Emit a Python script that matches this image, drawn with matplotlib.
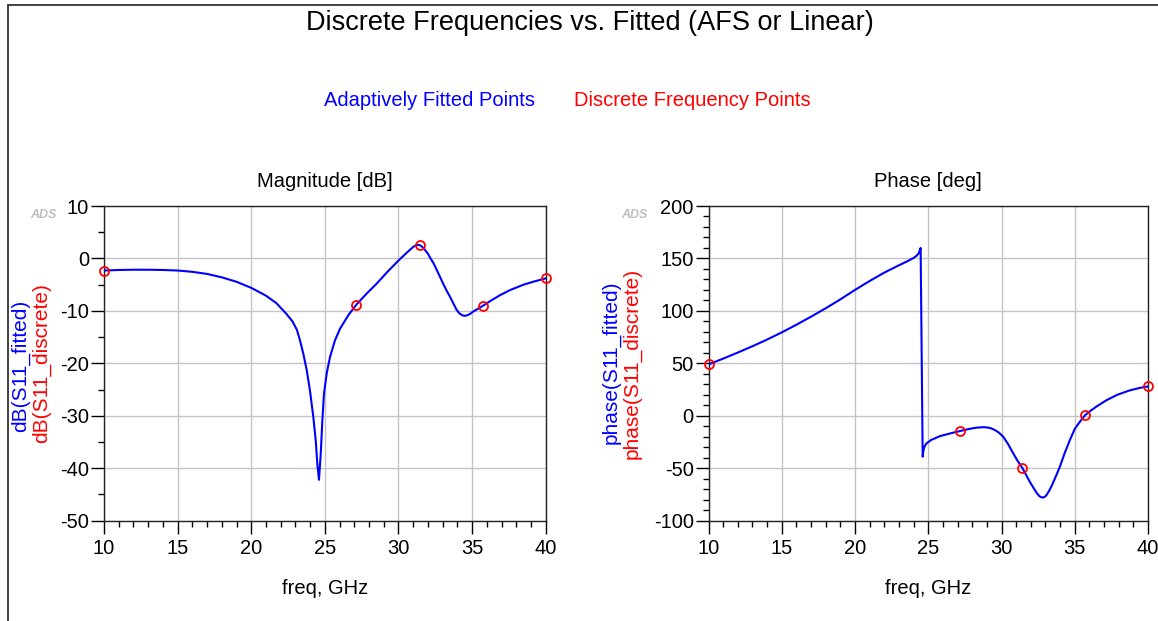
import matplotlib
matplotlib.use('Agg')
import matplotlib.pyplot as plt
from matplotlib.patches import Rectangle

plt.rcParams['font.family'] = ['Liberation Sans', 'DejaVu Sans']
plt.rcParams['axes.unicode_minus'] = False

# fitted curve
mag_freq = [10, 11, 12, 13, 14, 15, 16, 17, 18, 19, 20, 21, 21.7, 22.4, 22.8, 23.1, 23.31,
            23.54, 23.77, 23.99, 24.22, 24.38, 24.49, 24.6, 24.72, 24.83, 24.94, 25.12, 25.35,
            25.69, 26.03, 26.6, 27.14, 27.84, 28.52, 29.2, 30.0, 30.6, 31.0, 31.2, 31.35,
            31.5, 31.7, 32.0, 32.2, 32.4, 32.6, 32.82, 33.05, 33.3, 33.5, 33.75, 33.95, 34.15,
            34.35, 34.52, 34.7, 34.9, 35.09, 35.4, 35.71, 36.3, 36.9, 37.6, 38.5, 39.2, 40]
mag_fitted = [-2.3, -2.2, -2.15, -2.15, -2.2, -2.3, -2.55, -2.95, -3.6, -4.45, -5.6, -7.1,
              -8.5, -10.6, -12.0, -13.6, -15.6, -18.2, -21.3, -25.2, -30.3, -34.7, -39.2,
              -42.2, -37.3, -30.9, -25.8, -22.0, -18.8, -15.6, -13.4, -10.8, -8.8, -6.7,
              -4.8, -2.7, -0.4, 1.2, 2.2, 2.5, 2.6, 2.45, 2.0, 0.9, -0.1, -1.0, -2.2, -3.5,
              -4.9, -6.3, -7.3, -8.7, -9.8, -10.5, -10.85, -10.95, -10.8, -10.5, -10.1, -9.6,
              -9.07, -8.0, -7.0, -6.0, -5.0, -4.4, -3.8]

ph_freq = [10, 11, 12, 13, 14, 15, 16, 17, 18, 19, 20, 21, 22, 23, 23.6, 24.0, 24.2, 24.35,
           24.43, 24.48, 24.62, 24.66, 24.72, 24.87, 25.2, 25.8, 26.5, 27.14, 27.8, 28.3,
           28.8, 29.2, 29.5, 29.8, 30.12, 30.45, 30.8, 31.1, 31.43, 31.8, 32.0, 32.2, 32.4,
           32.6, 32.78, 32.95, 33.1, 33.25, 33.42, 33.7, 33.99, 34.3, 34.67, 35.0, 35.35,
           35.71, 36.1, 36.5, 37.17, 37.9, 38.7, 39.4, 40]
ph_fitted = [49, 54.5, 60.3, 66.3, 72.7, 79.5, 86.8, 94.5, 102.5, 111, 120, 128.5, 136.5,
             143.5, 147.5, 150.5, 152.5, 155, 158, 160, -39, -34, -30, -26.4, -23, -19.4,
             -16.8, -14.6, -12.5, -11.3, -10.8, -11.5, -13.2, -15.8, -20, -27, -35.8, -43,
             -49.8, -59.5, -64.5, -69, -73.5, -76.8, -78, -77.3, -75, -71.5, -67, -58, -48.4,
             -36, -23, -12.5, -5.7, 0.7, 5, 9, 14.9, 20, 24, 26.5, 28]

# discrete frequency points
disc_freq = [10, 27.14, 31.43, 35.71, 40]
disc_mag = [-2.3, -8.8, 2.55, -9.07, -3.8]
disc_ph = [49, -14.8, -49.5, 0.7, 28.1]

W, H = 1158, 621
fig = plt.figure(figsize=(W / 100, H / 100), dpi=100)


def px_axes(x0, y0, x1, y1):
    return fig.add_axes([x0 / W, 1 - y1 / H, (x1 - x0) / W, (y1 - y0) / H])


def style(ax, ylim, ystep, yminor):
    ax.set_xlim(10, 40)
    ax.set_ylim(*ylim)
    ax.set_xticks(range(10, 41, 5))
    ax.set_xticks(range(10, 41, 1), minor=True)
    ax.set_yticks(range(ylim[0], ylim[1] + 1, ystep))
    ax.set_yticks(range(ylim[0], ylim[1] + 1, yminor), minor=True)
    ax.grid(True, which='major', color='#c4c4c4', lw=1.0)
    ax.set_axisbelow(True)
    ax.tick_params(which='both', direction='out', width=1.0, colors='black',
                   top=False, right=False)
    ax.tick_params(which='major', length=9.5, labelsize=14.5)
    ax.tick_params(which='minor', length=4.5)
    ax.tick_params(axis='y', pad=1.2)
    ax.tick_params(axis='x', pad=4)
    for s in ax.spines.values():
        s.set_color('#222222')
        s.set_linewidth(1.0)


def ylab(x, y, s, color):
    # rotated label anchored on its baseline so the two colours sit side by side
    fig.text(x / W, 1 - y / H, s, color=color, fontsize=15, rotation=90,
             rotation_mode='anchor', ha='center', va='baseline')


ax1 = px_axes(104, 206, 545.7, 520.7)
ax1.plot(mag_freq, mag_fitted, color='#0000ff', lw=1.5, zorder=3)
ax1.plot(disc_freq, disc_mag, 'o', ms=6.5, mfc='none', mec='#ff0000', mew=1.3, zorder=4,
         clip_on=False)
style(ax1, (-50, 10), 10, 5)
ax1.set_title('Magnitude [dB]', fontsize=14.5, pad=14)
ax1.set_xlabel('freq, GHz', fontsize=14.5, labelpad=15)

ax2 = px_axes(708.5, 206, 1148, 520.7)
ax2.plot(ph_freq, ph_fitted, color='#0000ff', lw=1.5, zorder=3)
ax2.plot(disc_freq, disc_ph, 'o', ms=6.5, mfc='none', mec='#ff0000', mew=1.3, zorder=4,
         clip_on=False)
style(ax2, (-100, 200), 50, 10)
ax2.set_title('Phase [deg]', fontsize=14.5, pad=14)
ax2.set_xlabel('freq, GHz', fontsize=14.5, labelpad=15)

ylab(26, 366, 'dB(S11_fitted)', '#0000ff')
ylab(46.5, 363, 'dB(S11_discrete)', '#ff0000')
ylab(616.5, 362, 'phase(S11_fitted)', '#0000ff')
ylab(637.5, 363, 'phase(S11_discrete)', '#ff0000')

# ADS marks
for xx in (43, 634):
    fig.text(xx / W, 1 - 215 / H, 'ADS', color='#a8a8a8', fontsize=9, fontweight='bold',
             style='italic', ha='center', va='center', alpha=0.75)

fig.text(590 / W, 1 - 23 / H, 'Discrete Frequencies vs. Fitted (AFS or Linear)',
         fontsize=19.5, ha='center', va='center')
fig.text(535 / W, 1 - 101 / H, 'Adaptively Fitted Points', color='#0000ff', fontsize=14.5,
         ha='right', va='center')
fig.text(574 / W, 1 - 101 / H, 'Discrete Frequency Points', color='#ff0000', fontsize=14.5,
         ha='left', va='center')

# outer frame
fig.patches.append(Rectangle((8 / W, -0.1), 1.2, 1.1 - 5 / H, transform=fig.transFigure,
                             fill=False, edgecolor='#333333', lw=1.3))

fig.savefig('out.png', dpi=100)
